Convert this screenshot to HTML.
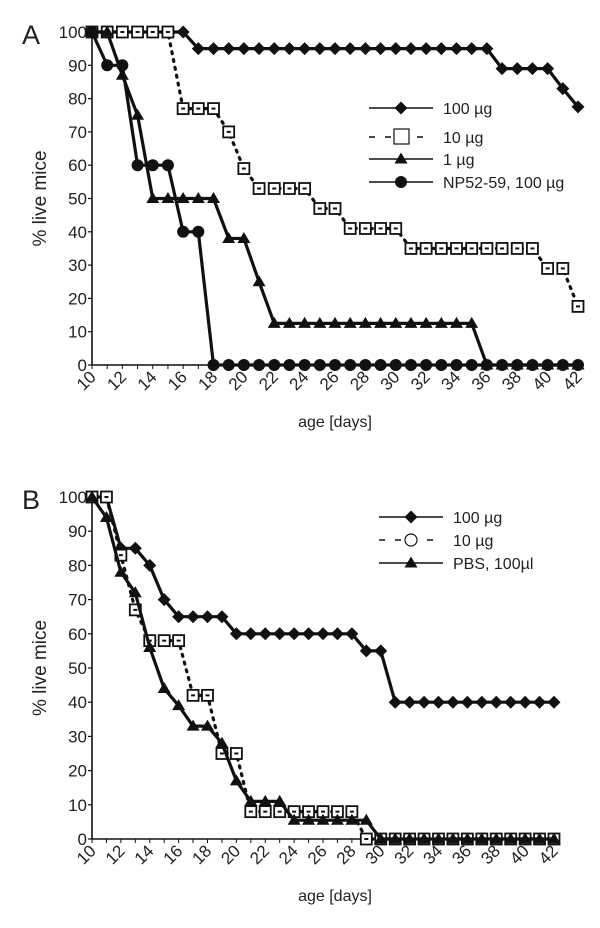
<!DOCTYPE html>
<html><head><meta charset="utf-8"><style>
body{margin:0;background:#fff}
svg{display:block;font-family:"Liberation Sans",sans-serif}
</style></head><body>
<svg id="chart" width="600" height="928" viewBox="0 0 600 928"></svg>
<script>
const days = [10,11,12,13,14,15,16,17,18,19,20,21,22,23,24,25,26,27,28,29,30,31,32,33,34,35,36,37,38,39,40,41,42];
const tickDays = [10,12,14,16,18,20,22,24,26,28,30,32,34,36,38,40,42];
const yTicks = [0,10,20,30,40,50,60,70,80,90,100];
const a100 = [100,100,100,100,100,100,100,95,95,95,95,95,95,95,95,95,95,95,95,95,95,95,95,95,95,95,95,89,89,89,89,83,77.5];
const a10 = [100,100,100,100,100,100,77,77,77,70,59,53,53,53,53,47,47,41,41,41,41,35,35,35,35,35,35,35,35,35,29,29,17.6];
const a1 = [100,100,87,75,50,50,50,50,50,38,38,25,12.5,12.5,12.5,12.5,12.5,12.5,12.5,12.5,12.5,12.5,12.5,12.5,12.5,12.5,0,0,0,0,0,0,0];
const aNP = [100,90,90,60,60,60,40,40,0,0,0,0,0,0,0,0,0,0,0,0,0,0,0,0,0,0,0,0,0,0,0,0,0];
const b100 = [100,100,85,85,80,70,65,65,65,65,60,60,60,60,60,60,60,60,60,55,55,40,40,40,40,40,40,40,40,40,40,40,40];
const b10 = [100,100,83,67,58,58,58,42,42,25,25,8,8,8,8,8,8,8,8,0,0,0,0,0,0,0,0,0,0,0,0,0,0];
const bPBS = [100,94,78,72,56,44,39,33,33,28,17,11,11,11,5.5,5.5,5.5,5.5,5.5,5.5,0,0,0,0,0,0,0,0,0,0,0,0,0];

const NS="http://www.w3.org/2000/svg";
const svg=document.getElementById('chart');
function mk(tag,attrs,parent){const e=document.createElementNS(NS,tag);for(const k in attrs)e.setAttribute(k,attrs[k]);(parent||svg).appendChild(e);return e;}

function marker(g,type,x,y){
  let e;
  if(type==='diamond'){e=mk('polygon',{points:`${x},${y-6.5} ${x+6.5},${y} ${x},${y+6.5} ${x-6.5},${y}`,fill:'#111'},g);}
  else if(type==='square'){e=mk('rect',{x:x-5.5,y:y-5.5,width:11,height:11,fill:'#fff',stroke:'#111','stroke-width':1.8},g);
    mk('rect',{x:x-2,y:y-1,width:4,height:2,fill:'#111'},g);}
  else if(type==='triangle'){e=mk('polygon',{points:`${x},${y-6.5} ${x+6.5},${y+4.5} ${x-6.5},${y+4.5}`,fill:'#111'},g);}
  else {e=mk('circle',{cx:x,cy:y,r:6,fill:'#111'},g);}
  return e;
}

function panel(cfg){
  const g=mk('g',{});
  
  
  const xs=d=>cfg.x0+(d-10)*(cfg.x1-cfg.x0)/32;
  const ys=v=>cfg.y0-v*(cfg.y0-cfg.y100)/100;
  const ya=mk('line',{x1:xs(10),y1:ys(0),x2:xs(10),y2:ys(100)-2,stroke:'#111','stroke-width':1.6},g);
  
  const xa=mk('line',{x1:xs(10),y1:ys(0),x2:xs(42)+4,y2:ys(0),stroke:'#111','stroke-width':1.6},g);
  
  yTicks.forEach(t=>{
    mk('line',{x1:xs(10)-4,y1:ys(t),x2:xs(10),y2:ys(t),stroke:'#111','stroke-width':1.2},g);
    const tx=mk('text',{x:xs(10)-5,y:ys(t)+6,'text-anchor':'end','font-size':17,fill:'#222'},g);
    tx.textContent=t;
    
    
  });
  days.forEach(d=>{mk('line',{x1:xs(d),y1:ys(0),x2:xs(d),y2:ys(0)+4,stroke:'#111','stroke-width':1},g);});
  tickDays.forEach(d=>{
    const tx=mk('text',{x:xs(d)+5,y:ys(0)+13,'text-anchor':'end','font-size':17,fill:'#222',transform:`rotate(-45 ${xs(d)+5} ${ys(0)+13})`},g);
    tx.textContent=d;
    
    
  });
  const yt=mk('text',{x:46,y:(ys(0)+ys(100))/2,'text-anchor':'middle','font-size':19,fill:'#222',transform:`rotate(-90 46 ${(ys(0)+ys(100))/2})`},g);
  yt.textContent='% live mice';
  const xt=mk('text',{x:335,y:ys(0)+62,'text-anchor':'middle','font-size':16,fill:'#222'},g);
  xt.textContent='age [days]';
  const pl=mk('text',{x:22,y:ys(100)+12,'font-size':27,fill:'#222'},g);
  pl.textContent=cfg.letter;
  cfg.series.forEach(s=>{
    const sg=mk('g',{},g);
    
    
    const pts=days.map((d,i)=>xs(d)+','+ys(s.vals[i])).join(' ');
    mk('polyline',{points:pts,fill:'none',stroke:'#111','stroke-width':s.dash?3.2:3.2,'stroke-dasharray':s.dash?'2 6':'none','stroke-linecap':'round'},sg);
    days.forEach((d,i)=>{marker(sg,s.type,xs(d),ys(s.vals[i]));});
  });
  cfg.series.forEach((s,i)=>{
    const lg=mk('g',{},g);
    
    
    const y=cfg.legY[i];
    mk('line',{x1:cfg.legX,y1:y,x2:cfg.legX+64,y2:y,stroke:'#111','stroke-width':1.4,'stroke-dasharray':s.dash?'6 10':'none'},lg);
    if(s.type==='square'&&s.legType==='circle'){mk('circle',{cx:cfg.legX+32,cy:y,r:6,fill:'#fff',stroke:'#111','stroke-width':1.2},lg);}
    else if(s.type==='square'){mk('rect',{x:cfg.legX+25,y:y-8,width:15,height:15,fill:'#fff',stroke:'#111','stroke-width':1.2},lg);}
    else marker(lg,s.type,cfg.legX+32,y);
    const t=mk('text',{x:cfg.legX+74,y:y+6,'font-size':16,fill:'#222'},lg);
    t.textContent=s.label;
  });
}

panel({name:'panel-a',letter:'A',x0:92,x1:578,y0:365,y100:32,legX:369,legY:[108,137,159,182],
  series:[
    {name:'series-100ug',type:'diamond',vals:a100,label:'100 \u00b5g'},
    {name:'series-10ug',type:'square',dash:true,vals:a10,label:'10 \u00b5g'},
    {name:'series-1ug',type:'triangle',vals:a1,label:'1 \u00b5g'},
    {name:'series-np52-59',type:'circle',vals:aNP,label:'NP52-59, 100 \u00b5g'}
  ]});
panel({name:'panel-b',letter:'B',x0:92,x1:554,y0:839,y100:497,legX:379,legY:[517,540,563],
  series:[
    {name:'series-100ug',type:'diamond',vals:b100,label:'100 \u00b5g'},
    {name:'series-10ug',type:'square',legType:'circle',dash:true,vals:b10,label:'10 \u00b5g'},
    {name:'series-pbs',type:'triangle',vals:bPBS,label:'PBS, 100\u00b5l'}
  ]});
</script>
</body></html>
